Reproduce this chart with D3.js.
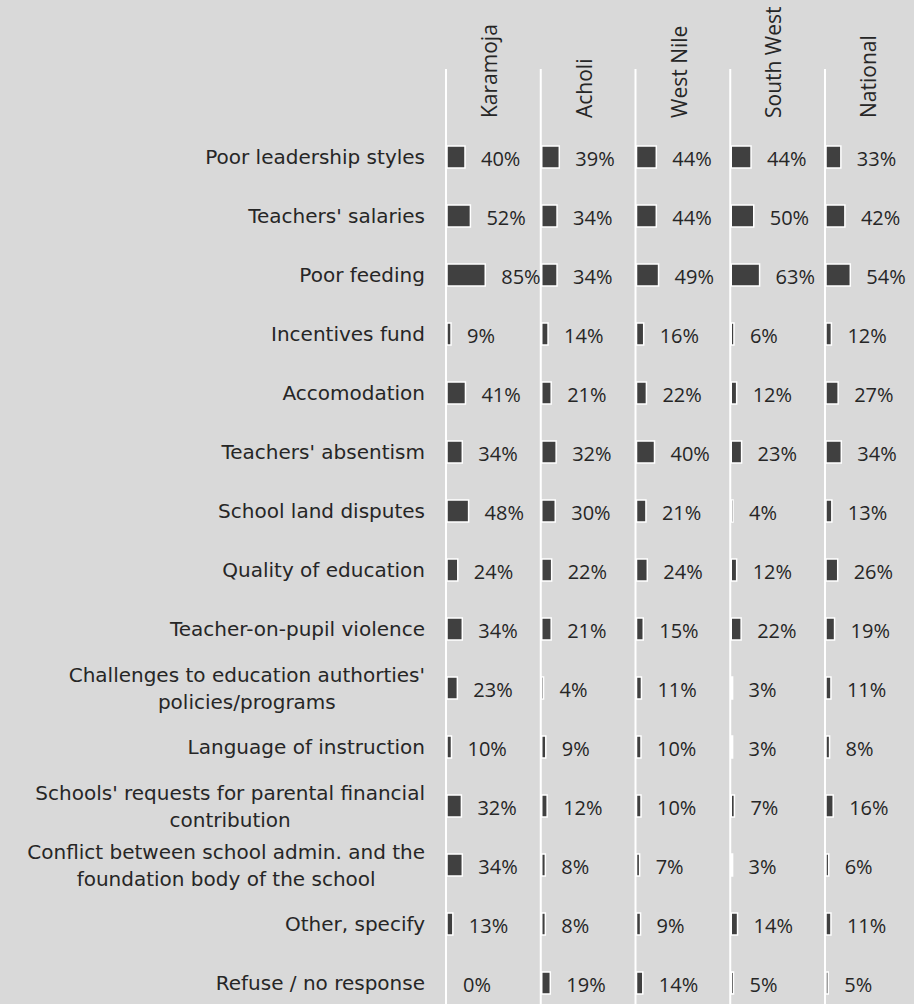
<!DOCTYPE html>
<html>
<head>
<meta charset="utf-8">
<script src="https://cdn.jsdelivr.net/npm/d3@7"></script>
<style>
  html, body { margin: 0; padding: 0; background: #d9d9d9; }
  svg { display: block; }
</style>
</head>
<body>
<svg id="chart" width="914" height="1004"></svg>
<script>
const width = 914;
const height = 1004;

// regions (panels) and answer categories
const regions = ["Karamoja", "Acholi", "West Nile", "South West", "National"];
const categories = [
  ["Poor leadership styles"],
  ["Teachers' salaries"],
  ["Poor  feeding"],
  ["Incentives fund"],
  ["Accomodation"],
  ["Teachers' absentism"],
  ["School land disputes"],
  ["Quality of education"],
  ["Teacher-on-pupil violence"],
  ["Challenges to education authorties'", "policies/programs"],
  ["Language of instruction"],
  ["Schools' requests for parental financial", "contribution"],
  ["Conflict between school admin. and the", "foundation body of the school"],
  ["Other, specify"],
  ["Refuse / no response"]
];

// percentages per region, same order as categories
const karamoja  = [40, 52, 85, 9, 41, 34, 48, 24, 34, 23, 10, 32, 34, 13, 0];
const acholi    = [39, 34, 34, 14, 21, 32, 30, 22, 21, 4, 9, 12, 8, 8, 19];
const westNile  = [44, 44, 49, 16, 22, 40, 21, 24, 15, 11, 10, 10, 7, 9, 14];
const southWest = [44, 50, 63, 6, 12, 23, 4, 12, 22, 3, 3, 7, 3, 14, 5];
const national  = [33, 42, 54, 12, 27, 34, 13, 26, 19, 11, 8, 16, 6, 11, 5];

const series = [karamoja, acholi, westNile, southWest, national];

const svg = d3.select("#chart");
svg.append("rect").attr("width", width).attr("height", height).attr("fill", "#d9d9d9");

// scales
const panelX = d3.scaleBand()
  .domain(regions)
  .range([446, 446 + 94.75 * regions.length])
  .paddingInner(0).paddingOuter(0);

const rowY = d3.scaleBand()
  .domain(d3.range(categories.length))
  .range([127.5, 127.5 + 59 * categories.length]);

const barW = d3.scaleLinear().domain([0, 100]).range([0, 45]);
const barH = 22;

// panel separator lines
svg.append("g").selectAll("line")
  .data(regions)
  .join("line")
  .attr("x1", d => panelX(d))
  .attr("x2", d => panelX(d))
  .attr("y1", 69)
  .attr("y2", height)
  .attr("stroke", "#fff")
  .attr("stroke-width", 2);

// region headers (rotated, read bottom to top)
svg.append("g").selectAll("text")
  .data(regions)
  .join("text")
  .attr("transform", d => `translate(${panelX(d) + 51},118) rotate(-90)`)
  .attr("text-anchor", "start")
  .attr("font-family", "'Open Sans', 'Noto Sans', sans-serif")
  .attr("font-size", 21)
  .attr("fill", "#262626")
  .text(d => d);

// category labels
const labelX = 425;
const lineGap = 26.7;
const catG = svg.append("g")
  .attr("font-family", "'DejaVu Sans', sans-serif")
  .attr("font-size", 20)
  .attr("fill", "#262626")
  .style("white-space", "pre");

categories.forEach((lines, i) => {
  const cy = rowY(i) + rowY.bandwidth() / 2;
  const t = catG.append("text");
  const first = cy + 7.3 - (lines.length - 1) * lineGap / 2;
  lines.forEach((ln, j) => {
    t.append("tspan").attr("y", first + j * lineGap).text(ln);
  });
  // right-align the block, center lines inside it
  const spans = t.selectAll("tspan").nodes();
  const maxW = d3.max(spans, s => s.getComputedTextLength());
  t.attr("text-anchor", "middle");
  t.selectAll("tspan").attr("x", labelX - maxW / 2);
});

// bars + value labels
regions.forEach((r, k) => {
  const g = svg.append("g").attr("transform", `translate(${panelX(r) + 1},0)`);
  const vals = series[k];

  g.selectAll("rect")
    .data(vals)
    .join("rect")
    .attr("x", 0)
    .attr("y", (d, i) => rowY(i) + rowY.bandwidth() / 2 - barH / 2)
    .attr("width", d => barW(d))
    .attr("height", barH)
    .attr("fill", "#404040")
    .attr("stroke", "#fff")
    .attr("stroke-width", 1.5);

  g.selectAll("text")
    .data(vals)
    .join("text")
    .attr("x", d => barW(d) + 16)
    .attr("y", (d, i) => rowY(i) + rowY.bandwidth() / 2 + 9)
    .attr("font-family", "'Open Sans', 'Noto Sans', sans-serif")
    .attr("font-size", 20)
    .attr("fill", "#262626")
    .text(d => d + "%");
});
</script>
</body>
</html>
